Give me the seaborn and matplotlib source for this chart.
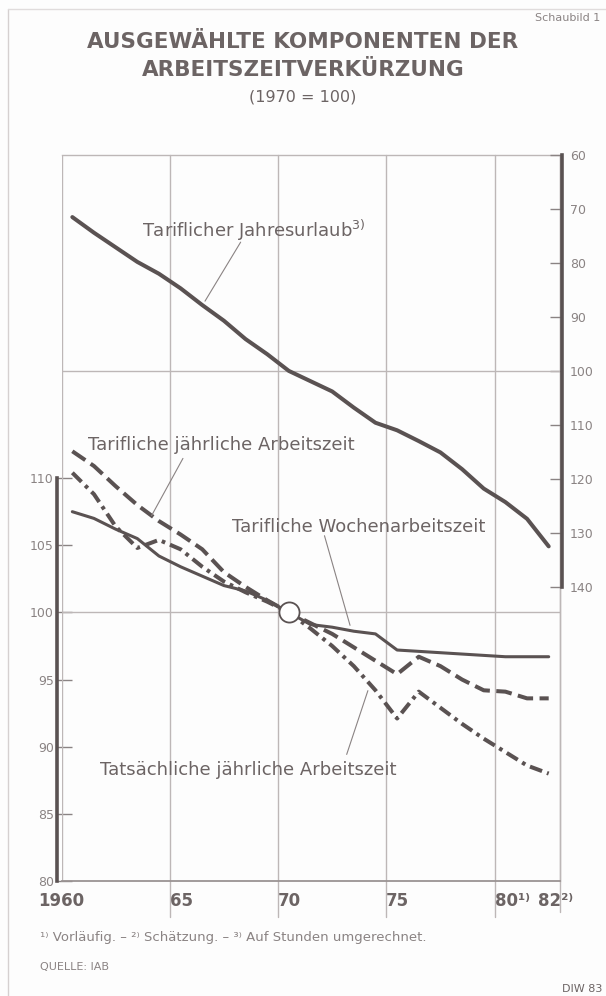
import numpy as np
import pandas as pd
import matplotlib
matplotlib.use("Agg")
import matplotlib.pyplot as plt
import seaborn as sns

jahre = list(range(1960, 1983))
urlaub = [71.5, 74.4, 77.1, 79.8, 82.0, 84.7, 87.8, 90.7, 94.1, 96.9, 100.0, 101.9,
          103.8, 106.8, 109.6, 111.0, 113.0, 115.1, 118.2, 121.8, 124.3, 127.4, 132.5]
tarif_jahr = [112.0, 110.9, 109.4, 108.0, 106.8, 105.8, 104.7, 103.0, 101.9, 100.9, 100.0, 99.2,
              98.4, 97.4, 96.4, 95.4, 96.7, 96.0, 95.0, 94.2, 94.1, 93.6, 93.6]
tatsaechlich = [110.4, 108.8, 106.4, 104.8, 105.4, 104.7, 103.4, 102.3, 101.5, 100.8, 100.0, 98.8,
                97.5, 96.0, 94.2, 92.1, 94.1, 92.9, 91.7, 90.6, 89.6, 88.6, 88.0]
woche = [107.5, 107.0, 106.2, 105.5, 104.2, 103.4, 102.7, 102.0, 101.6, 100.9, 100.0, 99.1,
         98.9, 98.6, 98.4, 97.2, 97.1, 97.0, 96.9, 96.8, 96.7, 96.7, 96.7]

basisjahr = 1970
links_ticks = [80, 85, 90, 95, 100, 105, 110]
rechts_ticks = [60, 70, 80, 90, 100, 110, 120, 130, 140]
x_labels = {1960: "1960", 1965: "65", 1970: "70", 1975: "75", 1980: "80¹⁾", 1982: "82²⁾"}
gitter_jahre = [1965, 1970, 1975, 1980]

sns.set_style("white")
plt.rcParams["font.family"] = ["DejaVu Sans"]

INK = "#5a5252"
TXT = "#6c6464"
LIGHT = "#8a8383"
GRID = "#bdb7b7"

df = pd.DataFrame({
    "Jahr": np.array(jahre) + 0.5,
    "urlaub": urlaub,
    "tarif_jahr": tarif_jahr,
    "tatsaechlich": tatsaechlich,
    "woche": woche,
})

fig = plt.figure(figsize=(6.06, 9.96), dpi=100, facecolor="#fdfdfd")
ax = fig.add_axes([0.1015, 0.11546, 0.8218, 0.7289])
ax.set_facecolor("#fdfdfd")
ax2 = ax.twinx()

# Gitter
for j in gitter_jahre:
    ax.axvline(j, ymin=-0.05, ymax=1, color=GRID, lw=1.0, clip_on=False, zorder=1)
ax.axvline(1983, ymin=-0.043, ymax=1, color=GRID, lw=1.0, clip_on=False, zorder=1)
ax.axvline(1960, color=GRID, lw=1.0, zorder=1)
ax.axhline(100, color=GRID, lw=1.0, zorder=1)
ax2.axhline(100, color=GRID, lw=1.0, zorder=1)

sns.lineplot(data=df, x="Jahr", y="woche", ax=ax, color=INK, lw=2.2, zorder=3)
sns.lineplot(data=df, x="Jahr", y="tarif_jahr", ax=ax, color=INK, lw=2.9, zorder=3)
ax.lines[-1].set_dashes((3.9, 1.6))
sns.lineplot(data=df, x="Jahr", y="tatsaechlich", ax=ax, color=INK, lw=2.9, zorder=3)
ax.lines[-1].set_dashes((3.2, 1.3, 0.9, 1.3))
sns.lineplot(data=df, x="Jahr", y="urlaub", ax=ax2, color=INK, lw=2.9, zorder=3)

# Basispunkt 1970
bi = jahre.index(basisjahr)
ax.plot(df["Jahr"][bi], woche[bi], "o", ms=14.5, mfc="white", mec=INK, mew=1.3, zorder=6)

ax.set_xlim(1960, 1983)
ax.set_ylim(80, 134.06)
ax2.set_ylim(194.5, 60)
ax.set_xlabel("")
ax.set_ylabel("")
ax2.set_ylabel("")

# Achsen links
for s in ["top", "right", "bottom"]:
    ax.spines[s].set_color(GRID)
    ax.spines[s].set_linewidth(1.0)
ax.spines["bottom"].set_color("#9a9393")
ax.spines["bottom"].set_linewidth(1.3)
ax.spines["left"].set_bounds(80, 110)
ax.spines["left"].set_position(("outward", 3.5))
ax.spines["left"].set_linewidth(2.6)
ax.spines["left"].set_color(INK)
ax.set_yticks(links_ticks)
ax.set_yticklabels([str(v) for v in links_ticks])
ax.tick_params(axis="y", direction="in", length=10.5, width=1.0, color=LIGHT,
               labelsize=9, labelcolor=LIGHT, pad=2)

# x-Achse
ax.set_xticks(list(x_labels.keys()))
ax.set_xticklabels(list(x_labels.values()), fontweight="bold", fontsize=12, color=TXT)
ax.set_xticks(range(1961, 1983), minor=True)
ax.tick_params(axis="x", which="major", length=0, pad=8)
ax.tick_params(axis="x", which="minor", direction="inout", length=19, width=1.0, color=GRID)
for lab in ax.get_xticklabels():
    if lab.get_text() == "1960":
        lab.set_ha("center")
    else:
        lab.set_ha("left")

# Achse rechts
for s in ["top", "left", "bottom"]:
    ax2.spines[s].set_visible(False)
ax2.spines["right"].set_bounds(60, 140)
ax2.spines["right"].set_position(("outward", 1.5))
ax2.spines["right"].set_linewidth(2.6)
ax2.spines["right"].set_color(INK)
ax2.set_yticks(rechts_ticks)
ax2.set_yticklabels([str(v) for v in rechts_ticks])
ax2.tick_params(axis="y", direction="in", length=9, width=1.0, color=LIGHT,
                labelsize=9, labelcolor=LIGHT, pad=6)

# Beschriftungen
fs = 13
ax.text(1963.73, 128.47, "Tariflicher Jahresurlaub$^{3)}$", fontsize=fs, color=TXT, va="center")
ax.annotate("", xy=(1966.56, 123.0), xytext=(1968.34, 127.75),
            arrowprops=dict(arrowstyle="-", color=LIGHT, lw=0.8))
ax.text(1961.23, 112.46, "Tarifliche jährliche Arbeitszeit", fontsize=fs, color=TXT, va="center")
ax.annotate("", xy=(1964.10, 107.03), xytext=(1965.67, 111.65),
            arrowprops=dict(arrowstyle="-", color=LIGHT, lw=0.8))
ax.text(1967.89, 106.36, "Tarifliche Wochenarbeitszeit", fontsize=fs, color=TXT, va="center")
ax.annotate("", xy=(1973.36, 98.84), xytext=(1972.11, 105.91),
            arrowprops=dict(arrowstyle="-", color=LIGHT, lw=0.8))
ax.text(1961.78, 88.27, "Tatsächliche jährliche Arbeitszeit", fontsize=fs, color=TXT, va="center")
ax.annotate("", xy=(1974.19, 94.37), xytext=(1973.13, 89.23),
            arrowprops=dict(arrowstyle="-", color=LIGHT, lw=0.8))

# Titel und Fußnoten
def fy(py):
    return 1 - py / 996

fig.text(600 / 606, fy(18), "Schaubild 1", ha="right", va="center", fontsize=8, color=LIGHT)
fig.text(0.5, fy(42), "AUSGEWÄHLTE KOMPONENTEN DER", ha="center", va="center",
         fontsize=15.5, fontweight="bold", color=TXT)
fig.text(0.5, fy(70), "ARBEITSZEITVERKÜRZUNG", ha="center", va="center",
         fontsize=15.5, fontweight="bold", color=TXT)
fig.text(0.5, fy(97), "(1970 = 100)", ha="center", va="center", fontsize=11.5, color=TXT)
fig.text(40 / 606, fy(937), "¹⁾ Vorläufig. – ²⁾ Schätzung. – ³⁾ Auf Stunden umgerechnet.",
         ha="left", va="center", fontsize=9.5, color=LIGHT)
fig.text(40 / 606, fy(967), "QUELLE: IAB", ha="left", va="center", fontsize=8, color=LIGHT)
fig.text(602 / 606, fy(989), "DIW 83", ha="right", va="center", fontsize=8, color=TXT)

# Seitenrand
fig.add_artist(plt.Line2D([8 / 606, 8 / 606], [0, fy(9)], color="#d5d0d0", lw=1.0))
fig.add_artist(plt.Line2D([8 / 606, 1], [fy(9), fy(9)], color="#e0dcdc", lw=1.0))

fig.savefig("out.png", dpi=100, facecolor=fig.get_facecolor())
